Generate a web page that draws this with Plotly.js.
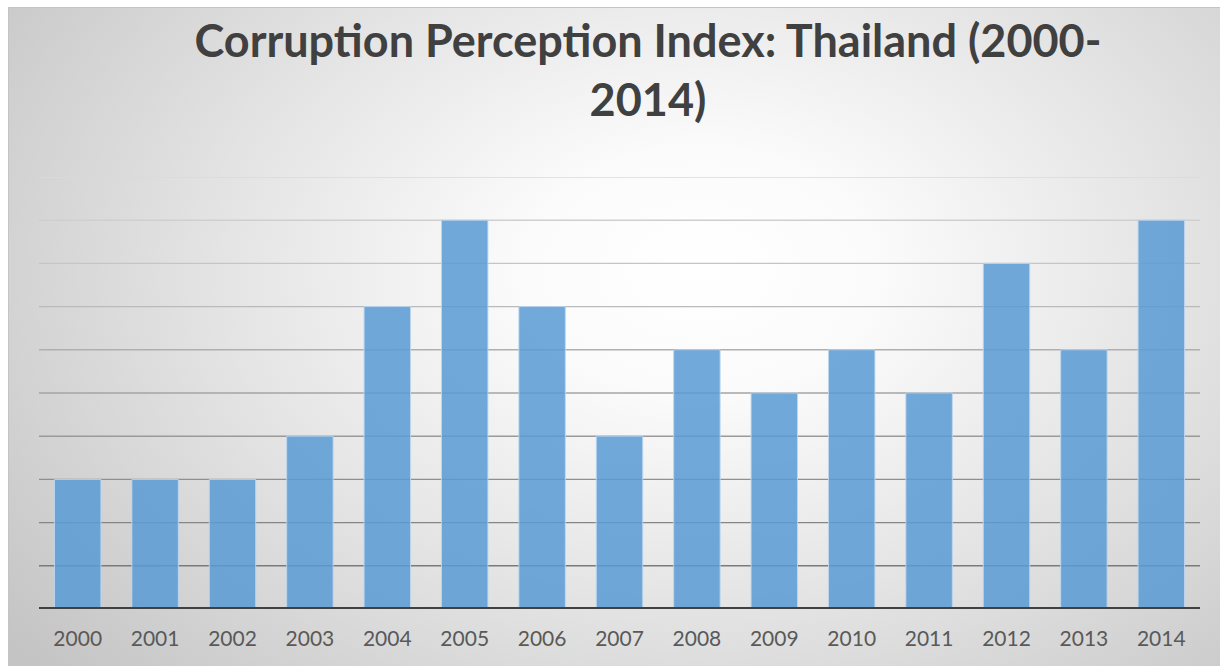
<!DOCTYPE html>
<html>
<head>
<meta charset="utf-8">
<script src="https://cdn.plot.ly/plotly-3.0.1.min.js"></script>
<style>
  html, body { margin: 0; padding: 0; background: #ffffff; width: 1220px; height: 666px; overflow: hidden; }
  #panel {
    position: absolute; left: 8px; top: 7px; width: 1212px; height: 659px;
    border-top: 1px solid #c4c4c4; border-left: 1px solid #c4c4c4;
    background: radial-gradient(ellipse 72% 92% at 57% 40%, #ffffff 0%, #fbfbfb 20%, #e4e4e4 55%, #c4c4c4 100%);
  }
  #chart { position: absolute; left: 0; top: 0; width: 1220px; height: 666px; }
</style>
</head>
<body>
<div id="panel"></div>
<div id="chart"></div>
<script>
const years = ["2000","2001","2002","2003","2004","2005","2006","2007","2008","2009","2010","2011","2012","2013","2014"];
const cpiScores = [3.2, 3.2, 3.2, 3.3, 3.6, 3.8, 3.6, 3.3, 3.5, 3.4, 3.5, 3.4, 3.7, 3.5, 3.8];
const gridValues = [3.0, 3.1, 3.2, 3.3, 3.4, 3.5, 3.6, 3.7, 3.8, 3.9];
const axisMin = 2.9, axisMax = 3.9;

// gridlines fade from dark (bottom) to light (top) like the original
const shapes = gridValues.map((v, i) => {
  const t = i / (gridValues.length - 1);
  const c = Math.round(122 + t * (218 - 122));
  return {
    type: 'line', xref: 'paper', yref: 'y', x0: 0, x1: 1, y0: v, y1: v,
    line: { color: `rgb(${c},${c},${c})`, width: 1.4 }, layer: 'below'
  };
});
shapes.push({
  type: 'line', xref: 'paper', yref: 'y', x0: 0, x1: 1, y0: axisMin, y1: axisMin,
  line: { color: '#404040', width: 3.8 }, layer: 'above'
});

const trace = {
  type: 'bar',
  x: years,
  y: cpiScores,
  marker: { color: 'rgba(91,155,213,0.86)', line: { color: 'rgba(189,215,238,0.9)', width: 1 } },
  hoverinfo: 'x+y'
};

const layout = {
  width: 1220, height: 666,
  margin: { l: 39, r: 20, t: 177, b: 57, pad: 0 },
  paper_bgcolor: 'rgba(0,0,0,0)',
  plot_bgcolor: 'rgba(0,0,0,0)',
  bargap: 0.4,
  showlegend: false,
  title: {
    text: 'Corruption Perception Index: Thailand (2000-<br>2014)',
    font: { family: 'Lato, "Open Sans", sans-serif', size: 45, color: '#404040', weight: 'bold' },
    x: 648 / 1220, xref: 'container', xanchor: 'center',
    y: 1 - 57 / 666, yref: 'container', yanchor: 'top'
  },
  xaxis: {
    type: 'category',
    showgrid: false, zeroline: false, showline: false, ticks: '',
    tickfont: { family: 'Lato, "Open Sans", sans-serif', size: 21, color: '#595959' },
    ticklabelstandoff: 15
  },
  yaxis: {
    range: [axisMin, axisMax],
    showgrid: false, zeroline: false, showline: false, showticklabels: false, ticks: ''
  },
  shapes: shapes
};

Plotly.newPlot('chart', [trace], layout, { displayModeBar: false, staticPlot: true });
</script>
</body>
</html>
